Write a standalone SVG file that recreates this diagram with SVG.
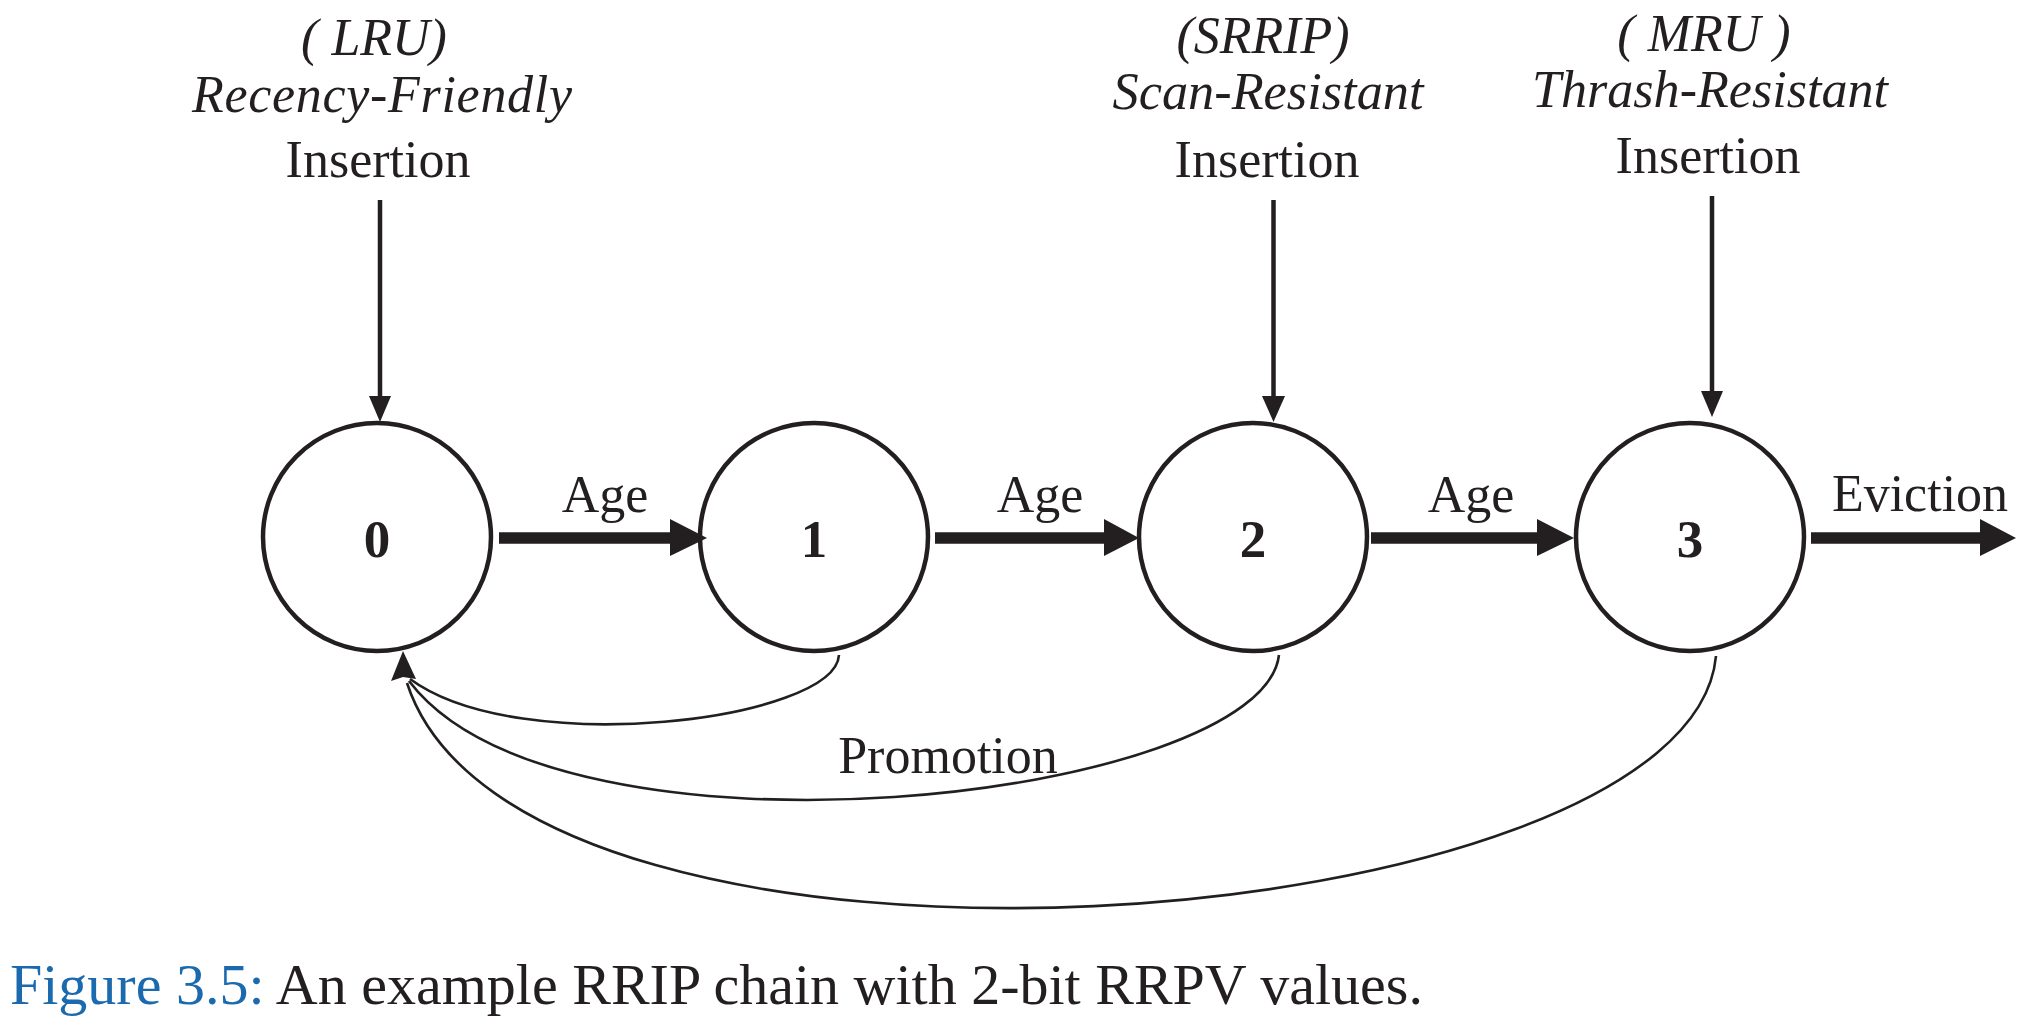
<svg xmlns="http://www.w3.org/2000/svg" width="2024" height="1032" viewBox="0 0 2024 1032">
  <style>
    .t { font-family: "Liberation Serif", "Times New Roman", serif; font-size: 52px; fill: #231f20; text-anchor: middle; }
    .i { font-style: italic; }
    .num { font-weight: bold; font-size: 53px; }
    .node { fill: #ffffff; stroke: #231f20; stroke-width: 4.5; }
    .age { stroke: #231f20; stroke-width: 11.5; fill: none; }
    .head { fill: #231f20; stroke: none; }
    .ins { stroke: #231f20; stroke-width: 4.5; fill: none; }
    .promo { stroke: #231f20; stroke-width: 2.6; fill: none; }
    .cap { font-family: "Liberation Serif", "Times New Roman", serif; font-size: 58px; fill: #231f20; }
  </style>
  <rect width="2024" height="1032" fill="#ffffff"/>

  <!-- Insertion labels -->
  <g id="label-lru">
    <text class="t i" x="374" y="55">( LRU)</text>
    <text class="t i" x="382" y="112" textLength="380" lengthAdjust="spacing">Recency-Friendly</text>
    <text class="t" x="378" y="177">Insertion</text>
  </g>
  <g id="label-srrip">
    <text class="t i" x="1263" y="53">(SRRIP)</text>
    <text class="t i" x="1268" y="109" textLength="311" lengthAdjust="spacingAndGlyphs">Scan-Resistant</text>
    <text class="t" x="1267" y="177">Insertion</text>
  </g>
  <g id="label-mru">
    <text class="t i" x="1704" y="51">( MRU )</text>
    <text class="t i" x="1710" y="107" textLength="356" lengthAdjust="spacingAndGlyphs">Thrash-Resistant</text>
    <text class="t" x="1708" y="173">Insertion</text>
  </g>

  <!-- Nodes -->
  <g id="node-0">
    <circle class="node" cx="377" cy="537" r="114"/>
    <text class="t num" x="377" y="557">0</text>
  </g>
  <g id="node-1">
    <circle class="node" cx="814" cy="537" r="114"/>
    <text class="t num" x="814" y="557">1</text>
  </g>
  <g id="node-2">
    <circle class="node" cx="1253" cy="537" r="114"/>
    <text class="t num" x="1253" y="557">2</text>
  </g>
  <g id="node-3">
    <circle class="node" cx="1690" cy="537" r="114"/>
    <text class="t num" x="1690" y="557">3</text>
  </g>

  <!-- Connectors -->
  <g id="connectors">
    <!-- insertion arrows -->
    <line class="ins" x1="380" y1="200" x2="380" y2="400"/>
    <polygon class="head" points="369,396 391,396 380,422"/>
    <line class="ins" x1="1273.5" y1="200" x2="1273.5" y2="400"/>
    <polygon class="head" points="1262,396 1285,396 1273.5,422"/>
    <line class="ins" x1="1712" y1="196" x2="1712" y2="395"/>
    <polygon class="head" points="1701,391 1723,391 1712,417"/>

    <!-- age arrows -->
    <line class="age" x1="499" y1="538" x2="674" y2="538"/>
    <polygon class="head" points="670,519 707,538 670,556"/>
    <line class="age" x1="935" y1="538" x2="1108" y2="538"/>
    <polygon class="head" points="1104,519 1139,538 1104,556"/>
    <line class="age" x1="1371" y1="538" x2="1541" y2="538"/>
    <polygon class="head" points="1537,519 1574,538 1537,556"/>
    <line class="age" x1="1811" y1="538" x2="1984" y2="538"/>
    <polygon class="head" points="1980,519 2016,538 1980,556"/>

    <!-- promotion curves -->
    <path class="promo" d="M839,655 C835,720 520,760 410,679"/>
    <path class="promo" d="M1279,655 C1262,800 560,880 409,681"/>
    <path class="promo" d="M1716,656 C1690,940 520,1030 407,683"/>
    <polygon class="head" points="403,651 391,681 403,677 416,679"/>
  </g>

  <!-- Connector labels -->
  <g id="edge-labels">
    <text class="t" x="605" y="512">Age</text>
    <text class="t" x="1040" y="512">Age</text>
    <text class="t" x="1471" y="512">Age</text>
    <text class="t" x="1920" y="511">Eviction</text>
    <text class="t" x="948" y="773">Promotion</text>
  </g>

  <!-- Caption -->
  <text class="cap" x="10" y="1004"><tspan fill="#1a6aad">Figure 3.5:</tspan> An example RRIP chain with 2-bit RRPV values.</text>
</svg>
